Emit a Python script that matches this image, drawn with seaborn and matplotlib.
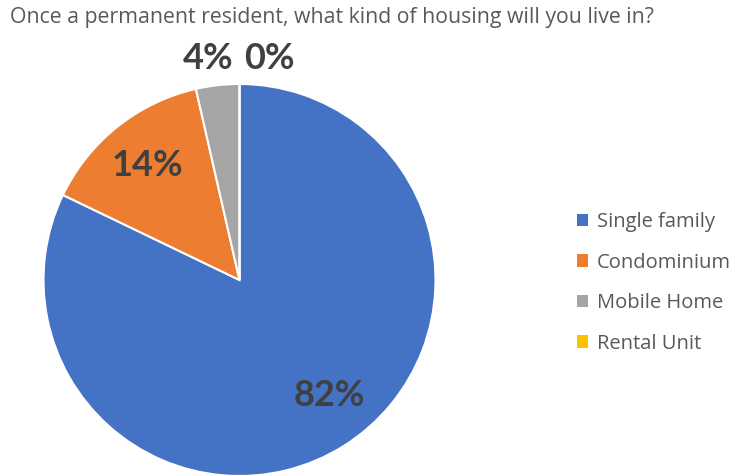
import matplotlib
matplotlib.use("Agg")
import matplotlib.pyplot as plt
import seaborn as sns
import numpy as np

# Survey responses
categories = ["Single family", "Condominium", "Mobile Home", "Rental Unit"]
counts = [23, 4, 1, 0]
colors = ["#4472C4", "#ED7D31", "#A5A5A5", "#FFC000"]
title = "Once a permanent resident, what kind of housing will you live in?"

sns.set_theme(style="white")
plt.rcParams["font.family"] = ["Open Sans", "DejaVu Sans"]

W, H = 736, 475
fig = plt.figure(figsize=(W / 100, H / 100), dpi=100)

# pie axes placed in pixel terms: centre (239.5, 280), radius 196
cx, cy, r = 239.5, 280.0, 196.0
ax = fig.add_axes([(cx - r) / W, (H - cy - r) / H, 2 * r / W, 2 * r / H])

total = sum(counts)
pct = [100.0 * c / total for c in counts]

wedges, _ = ax.pie(
    counts,
    colors=colors,
    startangle=90,
    counterclock=False,
    radius=1.0,
    wedgeprops=dict(edgecolor="white", linewidth=1.5),
)
ax.set_xlim(-1, 1)
ax.set_ylim(-1, 1)
ax.set_aspect("equal")
ax.axis("off")

label_kw = dict(fontsize=26, fontweight="bold", color="#404040",
                ha="center", va="center", family=["Lato", "DejaVu Sans"],
                clip_on=False)

# data-label anchor points (axes units, pie radius = 1)
label_pos = [(0.457, -0.590), (-0.469, 0.585), (-0.161, 1.130), (0.151, 1.130)]
for p, (lx, ly) in zip(pct, label_pos):
    ax.text(lx, ly, f"{p:.0f}%", **label_kw)

fig.text(10 / W, 1 - 18 / H, title, fontsize=15.3, color="#595959",
         ha="left", va="center")

leg = fig.legend(
    wedges, categories,
    loc="upper left",
    bbox_to_anchor=(569 / W, 1 - 204 / H),
    frameon=False,
    fontsize=14.5,
    labelcolor="#595959",
    handlelength=0.55,
    handleheight=0.55,
    handletextpad=0.45,
    labelspacing=1.02,
    borderaxespad=0,
)
for h in leg.legend_handles:
    h.set_edgecolor("none")

fig.savefig("out.png", dpi=100)
